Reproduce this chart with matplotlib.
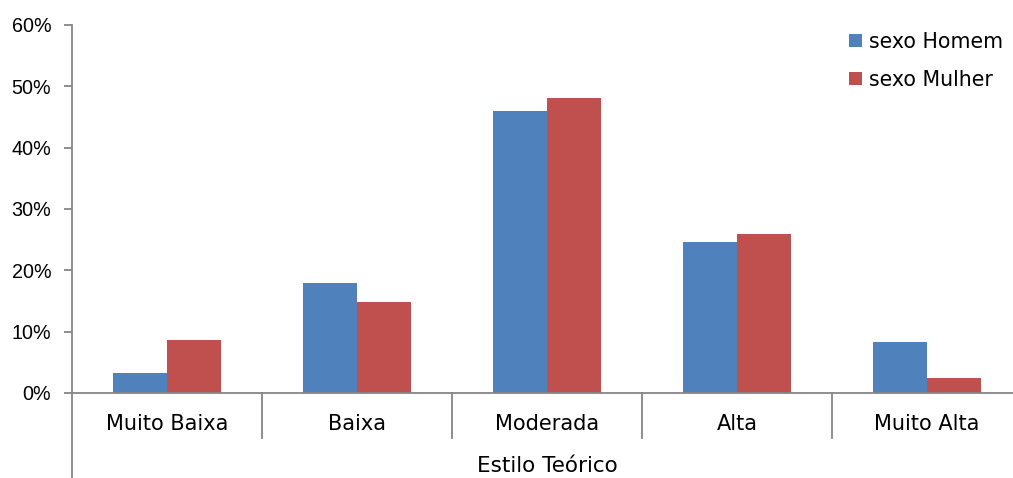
import numpy as np
import matplotlib.pyplot as plt
from matplotlib.ticker import FuncFormatter

# Data (percent)
categories = ['Muito Baixa', 'Baixa', 'Moderada', 'Alta', 'Muito Alta']
homem = [3.3, 18.0, 45.9, 24.6, 8.3]
mulher = [8.6, 14.8, 48.1, 25.9, 2.5]
series_names = ['sexo Homem', 'sexo Mulher']

W, H = 1013, 478
fig = plt.figure(figsize=(W / 100, H / 100), dpi=100)
# axes box in pixels: left 72, top 25, zero line 393
ax = fig.add_axes([72 / W, (H - 393) / H, (W - 72) / W, (393 - 25) / H])

gray = '#868686'
x = np.arange(len(categories))
bw = 0.284
ax.bar(x - bw / 2, homem, bw, color='#4F81BD', label=series_names[0], zorder=2)
ax.bar(x + bw / 2, mulher, bw, color='#C0504D', label=series_names[1], zorder=2)

ax.set_xlim(-0.5, 4.5 - 9 / 190)
ax.set_ylim(0, 60)
ax.set_yticks(np.arange(0, 61, 10))
ax.yaxis.set_major_formatter(FuncFormatter(lambda v, p: '%d%%' % v))
ax.set_xticks(x)
ax.set_xticklabels(categories)

for s in ['top', 'right']:
    ax.spines[s].set_visible(False)
for s in ['left', 'bottom']:
    ax.spines[s].set_color(gray)
    ax.spines[s].set_linewidth(1.3)

ax.tick_params(axis='y', length=6, width=1.3, color=gray, pad=9,
               labelsize=14.2, labelfontfamily='Liberation Sans')
ax.tick_params(axis='x', length=0, pad=15, labelsize=15)

# category separators and the long left line below the axis
ah = 393 - 25
for b in [0.5, 1.5, 2.5, 3.5]:
    ax.plot([b, b], [0, -45 / ah], transform=ax.get_xaxis_transform(),
            color=gray, lw=1.3, clip_on=False)
ax.plot([-0.5, -0.5], [0, -85 / ah], transform=ax.get_xaxis_transform(),
        color=gray, lw=1.3, clip_on=False)

fig.text(547 / W, (H - 466) / H, 'Estilo Teórico', ha='center', va='center', fontsize=15.5)

ax.legend(loc='upper left', bbox_to_anchor=((835 - 72) / (W - 72), 1.02), frameon=False,
          fontsize=14.8, handlelength=0.6, handleheight=0.6, handletextpad=0.35,
          labelspacing=0.85, borderaxespad=0.3)

fig.savefig('out.png', dpi=100)
